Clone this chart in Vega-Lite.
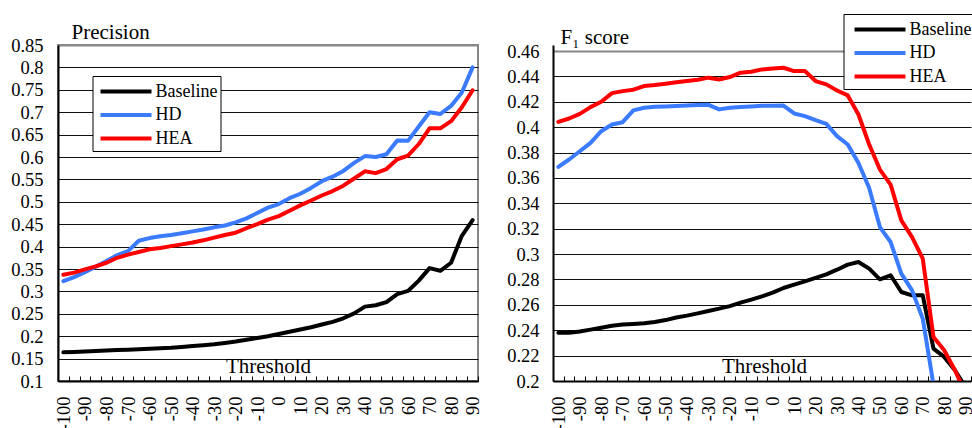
{
  "$schema": "https://vega.github.io/schema/vega-lite/v6.json",
  "padding": {"top": 13, "left": 9, "right": 0, "bottom": 0},
  "background": "white",
  "datasets": {
    "precision": [
      {"t":-100,"s":"Baseline","v":0.164},{"t":-95,"s":"Baseline","v":0.165},{"t":-90,"s":"Baseline","v":0.166},{"t":-85,"s":"Baseline","v":0.167},{"t":-80,"s":"Baseline","v":0.168},{"t":-75,"s":"Baseline","v":0.169},{"t":-70,"s":"Baseline","v":0.170},{"t":-65,"s":"Baseline","v":0.171},{"t":-60,"s":"Baseline","v":0.172},{"t":-55,"s":"Baseline","v":0.173},{"t":-50,"s":"Baseline","v":0.174},{"t":-45,"s":"Baseline","v":0.176},{"t":-40,"s":"Baseline","v":0.178},{"t":-35,"s":"Baseline","v":0.180},{"t":-30,"s":"Baseline","v":0.182},{"t":-25,"s":"Baseline","v":0.185},{"t":-20,"s":"Baseline","v":0.188},{"t":-15,"s":"Baseline","v":0.192},{"t":-10,"s":"Baseline","v":0.196},{"t":-5,"s":"Baseline","v":0.200},{"t":0,"s":"Baseline","v":0.205},{"t":5,"s":"Baseline","v":0.210},{"t":10,"s":"Baseline","v":0.215},{"t":15,"s":"Baseline","v":0.220},{"t":20,"s":"Baseline","v":0.226},{"t":25,"s":"Baseline","v":0.232},{"t":30,"s":"Baseline","v":0.240},{"t":35,"s":"Baseline","v":0.251},{"t":40,"s":"Baseline","v":0.266},{"t":45,"s":"Baseline","v":0.269},{"t":50,"s":"Baseline","v":0.276},{"t":55,"s":"Baseline","v":0.294},{"t":60,"s":"Baseline","v":0.301},{"t":65,"s":"Baseline","v":0.324},{"t":70,"s":"Baseline","v":0.352},{"t":75,"s":"Baseline","v":0.346},{"t":80,"s":"Baseline","v":0.364},{"t":85,"s":"Baseline","v":0.424},{"t":90,"s":"Baseline","v":0.459},
      {"t":-100,"s":"HD","v":0.323},{"t":-95,"s":"HD","v":0.332},{"t":-90,"s":"HD","v":0.343},{"t":-85,"s":"HD","v":0.355},{"t":-80,"s":"HD","v":0.368},{"t":-75,"s":"HD","v":0.381},{"t":-70,"s":"HD","v":0.390},{"t":-65,"s":"HD","v":0.413},{"t":-60,"s":"HD","v":0.419},{"t":-55,"s":"HD","v":0.423},{"t":-50,"s":"HD","v":0.426},{"t":-45,"s":"HD","v":0.430},{"t":-40,"s":"HD","v":0.434},{"t":-35,"s":"HD","v":0.438},{"t":-30,"s":"HD","v":0.443},{"t":-25,"s":"HD","v":0.447},{"t":-20,"s":"HD","v":0.454},{"t":-15,"s":"HD","v":0.463},{"t":-10,"s":"HD","v":0.475},{"t":-5,"s":"HD","v":0.487},{"t":0,"s":"HD","v":0.495},{"t":5,"s":"HD","v":0.508},{"t":10,"s":"HD","v":0.518},{"t":15,"s":"HD","v":0.531},{"t":20,"s":"HD","v":0.546},{"t":25,"s":"HD","v":0.556},{"t":30,"s":"HD","v":0.569},{"t":35,"s":"HD","v":0.587},{"t":40,"s":"HD","v":0.602},{"t":45,"s":"HD","v":0.600},{"t":50,"s":"HD","v":0.606},{"t":55,"s":"HD","v":0.637},{"t":60,"s":"HD","v":0.636},{"t":65,"s":"HD","v":0.668},{"t":70,"s":"HD","v":0.700},{"t":75,"s":"HD","v":0.696},{"t":80,"s":"HD","v":0.714},{"t":85,"s":"HD","v":0.744},{"t":90,"s":"HD","v":0.800},
      {"t":-100,"s":"HEA","v":0.337},{"t":-95,"s":"HEA","v":0.342},{"t":-90,"s":"HEA","v":0.349},{"t":-85,"s":"HEA","v":0.356},{"t":-80,"s":"HEA","v":0.364},{"t":-75,"s":"HEA","v":0.375},{"t":-70,"s":"HEA","v":0.382},{"t":-65,"s":"HEA","v":0.388},{"t":-60,"s":"HEA","v":0.394},{"t":-55,"s":"HEA","v":0.397},{"t":-50,"s":"HEA","v":0.401},{"t":-45,"s":"HEA","v":0.405},{"t":-40,"s":"HEA","v":0.409},{"t":-35,"s":"HEA","v":0.414},{"t":-30,"s":"HEA","v":0.420},{"t":-25,"s":"HEA","v":0.426},{"t":-20,"s":"HEA","v":0.431},{"t":-15,"s":"HEA","v":0.441},{"t":-10,"s":"HEA","v":0.450},{"t":-5,"s":"HEA","v":0.460},{"t":0,"s":"HEA","v":0.468},{"t":5,"s":"HEA","v":0.480},{"t":10,"s":"HEA","v":0.492},{"t":15,"s":"HEA","v":0.503},{"t":20,"s":"HEA","v":0.514},{"t":25,"s":"HEA","v":0.524},{"t":30,"s":"HEA","v":0.536},{"t":35,"s":"HEA","v":0.552},{"t":40,"s":"HEA","v":0.568},{"t":45,"s":"HEA","v":0.564},{"t":50,"s":"HEA","v":0.573},{"t":55,"s":"HEA","v":0.595},{"t":60,"s":"HEA","v":0.603},{"t":65,"s":"HEA","v":0.629},{"t":70,"s":"HEA","v":0.664},{"t":75,"s":"HEA","v":0.664},{"t":80,"s":"HEA","v":0.680},{"t":85,"s":"HEA","v":0.711},{"t":90,"s":"HEA","v":0.749}
    ],
    "f1": [
      {"t":-100,"s":"Baseline","v":0.238},{"t":-95,"s":"Baseline","v":0.238},{"t":-90,"s":"Baseline","v":0.239},{"t":-85,"s":"Baseline","v":0.2405},{"t":-80,"s":"Baseline","v":0.242},{"t":-75,"s":"Baseline","v":0.2435},{"t":-70,"s":"Baseline","v":0.2445},{"t":-65,"s":"Baseline","v":0.245},{"t":-60,"s":"Baseline","v":0.2455},{"t":-55,"s":"Baseline","v":0.2465},{"t":-50,"s":"Baseline","v":0.248},{"t":-45,"s":"Baseline","v":0.250},{"t":-40,"s":"Baseline","v":0.2515},{"t":-35,"s":"Baseline","v":0.2533},{"t":-30,"s":"Baseline","v":0.2552},{"t":-25,"s":"Baseline","v":0.257},{"t":-20,"s":"Baseline","v":0.259},{"t":-15,"s":"Baseline","v":0.2617},{"t":-10,"s":"Baseline","v":0.2641},{"t":-5,"s":"Baseline","v":0.2667},{"t":0,"s":"Baseline","v":0.2696},{"t":5,"s":"Baseline","v":0.2733},{"t":10,"s":"Baseline","v":0.2759},{"t":15,"s":"Baseline","v":0.2785},{"t":20,"s":"Baseline","v":0.2812},{"t":25,"s":"Baseline","v":0.284},{"t":30,"s":"Baseline","v":0.2877},{"t":35,"s":"Baseline","v":0.2917},{"t":40,"s":"Baseline","v":0.2938},{"t":45,"s":"Baseline","v":0.2885},{"t":50,"s":"Baseline","v":0.2801},{"t":55,"s":"Baseline","v":0.2833},{"t":60,"s":"Baseline","v":0.2701},{"t":65,"s":"Baseline","v":0.2675},{"t":70,"s":"Baseline","v":0.2675},{"t":75,"s":"Baseline","v":0.2255},{"t":80,"s":"Baseline","v":0.219},{"t":85,"s":"Baseline","v":0.2085},{"t":90,"s":"Baseline","v":0.195},
      {"t":-100,"s":"HD","v":0.3687},{"t":-95,"s":"HD","v":0.3745},{"t":-90,"s":"HD","v":0.381},{"t":-85,"s":"HD","v":0.3876},{"t":-80,"s":"HD","v":0.3968},{"t":-75,"s":"HD","v":0.4021},{"t":-70,"s":"HD","v":0.4039},{"t":-65,"s":"HD","v":0.4132},{"t":-60,"s":"HD","v":0.4153},{"t":-55,"s":"HD","v":0.4161},{"t":-50,"s":"HD","v":0.4163},{"t":-45,"s":"HD","v":0.4166},{"t":-40,"s":"HD","v":0.417},{"t":-35,"s":"HD","v":0.4175},{"t":-30,"s":"HD","v":0.4176},{"t":-25,"s":"HD","v":0.414},{"t":-20,"s":"HD","v":0.4153},{"t":-15,"s":"HD","v":0.4158},{"t":-10,"s":"HD","v":0.4163},{"t":-5,"s":"HD","v":0.4168},{"t":0,"s":"HD","v":0.4168},{"t":5,"s":"HD","v":0.417},{"t":10,"s":"HD","v":0.4108},{"t":15,"s":"HD","v":0.4087},{"t":20,"s":"HD","v":0.4055},{"t":25,"s":"HD","v":0.4026},{"t":30,"s":"HD","v":0.3929},{"t":35,"s":"HD","v":0.3863},{"t":40,"s":"HD","v":0.3718},{"t":45,"s":"HD","v":0.3521},{"t":50,"s":"HD","v":0.3213},{"t":55,"s":"HD","v":0.3095},{"t":60,"s":"HD","v":0.2846},{"t":65,"s":"HD","v":0.2714},{"t":70,"s":"HD","v":0.2491},{"t":75,"s":"HD","v":0.197},
      {"t":-100,"s":"HEA","v":0.4042},{"t":-95,"s":"HEA","v":0.4068},{"t":-90,"s":"HEA","v":0.4105},{"t":-85,"s":"HEA","v":0.4158},{"t":-80,"s":"HEA","v":0.420},{"t":-75,"s":"HEA","v":0.4268},{"t":-70,"s":"HEA","v":0.4284},{"t":-65,"s":"HEA","v":0.4295},{"t":-60,"s":"HEA","v":0.4324},{"t":-55,"s":"HEA","v":0.4332},{"t":-50,"s":"HEA","v":0.4342},{"t":-45,"s":"HEA","v":0.4353},{"t":-40,"s":"HEA","v":0.4363},{"t":-35,"s":"HEA","v":0.4374},{"t":-30,"s":"HEA","v":0.439},{"t":-25,"s":"HEA","v":0.4376},{"t":-20,"s":"HEA","v":0.4395},{"t":-15,"s":"HEA","v":0.4429},{"t":-10,"s":"HEA","v":0.4437},{"t":-5,"s":"HEA","v":0.4455},{"t":0,"s":"HEA","v":0.4463},{"t":5,"s":"HEA","v":0.4468},{"t":10,"s":"HEA","v":0.4442},{"t":15,"s":"HEA","v":0.4442},{"t":20,"s":"HEA","v":0.4363},{"t":25,"s":"HEA","v":0.4337},{"t":30,"s":"HEA","v":0.4289},{"t":35,"s":"HEA","v":0.425},{"t":40,"s":"HEA","v":0.41},{"t":45,"s":"HEA","v":0.3863},{"t":50,"s":"HEA","v":0.3666},{"t":55,"s":"HEA","v":0.3547},{"t":60,"s":"HEA","v":0.3266},{"t":65,"s":"HEA","v":0.3134},{"t":70,"s":"HEA","v":0.2964},{"t":75,"s":"HEA","v":0.2347},{"t":80,"s":"HEA","v":0.2242},{"t":85,"s":"HEA","v":0.2085},{"t":90,"s":"HEA","v":0.19}
    ]
  },
  "config": {
    "font": "Liberation Serif, Times New Roman, serif",
    "view": {"stroke": "#888888", "strokeWidth": 2},
    "axis": {
      "labelFont": "Liberation Serif, Times New Roman, serif",
      "titleFont": "Liberation Serif, Times New Roman, serif",
      "labelColor": "#000",
      "titleColor": "#000",
      "labelFontSize": 18.5,
      "titleFontSize": 21,
      "titleFontWeight": "normal",
      "domainColor": "#000",
      "domainWidth": 2
    },
    "legend": {
      "labelFont": "Liberation Serif, Times New Roman, serif",
      "labelFontSize": 18,
      "labelColor": "#000"
    },
    "line": {"strokeWidth": 4, "strokeCap": "round", "strokeJoin": "round"}
  },
  "hconcat": [
    {
      "width": 420,
      "height": 336,
      "data": {"name": "precision"},
      "mark": {"type": "line", "clip": true},
      "encoding": {
        "x": {
          "field": "t", "type": "ordinal", "sort": "ascending",
          "scale": {"type": "band", "paddingInner": 0, "paddingOuter": 0},
          "axis": {
            "title": "Threshold", "titleX": 210, "titleY": -9, "titleAlign": "center", "titleBaseline": "alphabetic",
            "labelAngle": 270, "labelOverlap": false, "labelPadding": 20,
            "labelExpr": "datum.value % 10 === 0 ? datum.label : ''",
            "tickBand": "extent", "tickSize": -5, "tickColor": "#000", "tickWidth": 1,
            "grid": false
          }
        },
        "y": {
          "field": "v", "type": "quantitative",
          "scale": {"domain": [0.1, 0.85], "nice": false, "zero": false},
          "axis": {
            "title": "Precision", "titleAngle": 0, "titleAlign": "left", "titleBaseline": "alphabetic", "titleX": 13, "titleY": -7,
            "values": [0.1,0.15,0.2,0.25,0.3,0.35,0.4,0.45,0.5,0.55,0.6,0.65,0.7,0.75,0.8,0.85],
            "format": "~g", "ticks": false, "labelPadding": 15,
            "grid": true,
            "gridColor": {"condition": {"test": "datum.value >= 0.849", "value": "#888888"}, "value": "#111111"},
            "gridWidth": {"condition": {"test": "datum.value >= 0.849", "value": 2}, "value": 1}
          }
        },
        "color": {
          "field": "s", "type": "nominal",
          "scale": {"domain": ["Baseline", "HD", "HEA"], "range": ["#000000", "#3a7bff", "#ff0000"]},
          "legend": {
            "orient": "none", "legendX": 34.5, "legendY": 31, "title": null,
            "symbolType": "M-2.5,0H2.5", "symbolSize": 416, "symbolStrokeWidth": 4, "symbolOffset": 18,
            "fillColor": "white", "strokeColor": "#000", "padding": 3, "labelOffset": 17, "rowPadding": 1.5,
            "encode": {"symbols": {"update": {"strokeCap": {"value": "round"}}}}
          }
        }
      }
    },
    {
      "width": 418,
      "height": 336,
      "view": {"stroke": null},
      "data": {"name": "f1"},
      "mark": {"type": "line", "clip": true},
      "encoding": {
        "x": {
          "field": "t", "type": "ordinal", "sort": "ascending",
          "scale": {"type": "band", "paddingInner": 0, "paddingOuter": 0},
          "axis": {
            "title": "Threshold", "titleX": 211, "titleY": -9, "titleAlign": "center", "titleBaseline": "alphabetic",
            "labelAngle": 270, "labelOverlap": false, "labelPadding": 20,
            "labelExpr": "datum.value % 10 === 0 ? datum.label : ''",
            "tickBand": "extent", "tickSize": -5, "tickColor": "#000", "tickWidth": 1,
            "grid": false
          }
        },
        "y": {
          "field": "v", "type": "quantitative",
          "scale": {"domain": [0.2, 0.46473], "nice": false, "zero": false},
          "axis": {
            "title": "F₁ score", "titleAngle": 0, "titleAlign": "left", "titleBaseline": "alphabetic", "titleX": 7, "titleY": -2,
            "values": [0.2,0.22,0.24,0.26,0.28,0.3,0.32,0.34,0.36,0.38,0.4,0.42,0.44,0.46],
            "format": "~g", "ticks": false, "labelPadding": 14,
            "grid": true,
            "gridColor": {"condition": {"test": "datum.value >= 0.459", "value": "#888888"}, "value": "#111111"},
            "gridWidth": {"condition": {"test": "datum.value >= 0.459", "value": 2}, "value": 1}
          }
        },
        "color": {
          "field": "s", "type": "nominal",
          "scale": {"domain": ["Baseline", "HD", "HEA"], "range": ["#000000", "#3a7bff", "#ff0000"]},
          "legend": {
            "orient": "none", "legendX": 290.5, "legendY": -31, "title": null,
            "symbolType": "M-2.5,0H2.5", "symbolSize": 416, "symbolStrokeWidth": 4, "symbolOffset": 21,
            "fillColor": "white", "strokeColor": "#000", "padding": 3, "labelOffset": 17, "rowPadding": 1.5,
            "encode": {"symbols": {"update": {"strokeCap": {"value": "round"}}}}
          }
        }
      }
    }
  ],
  "resolve": {"scale": {"color": "independent", "x": "independent", "y": "independent"}, "legend": {"color": "independent"}},
  "spacing": 75,
  "bounds": "flush"
}
